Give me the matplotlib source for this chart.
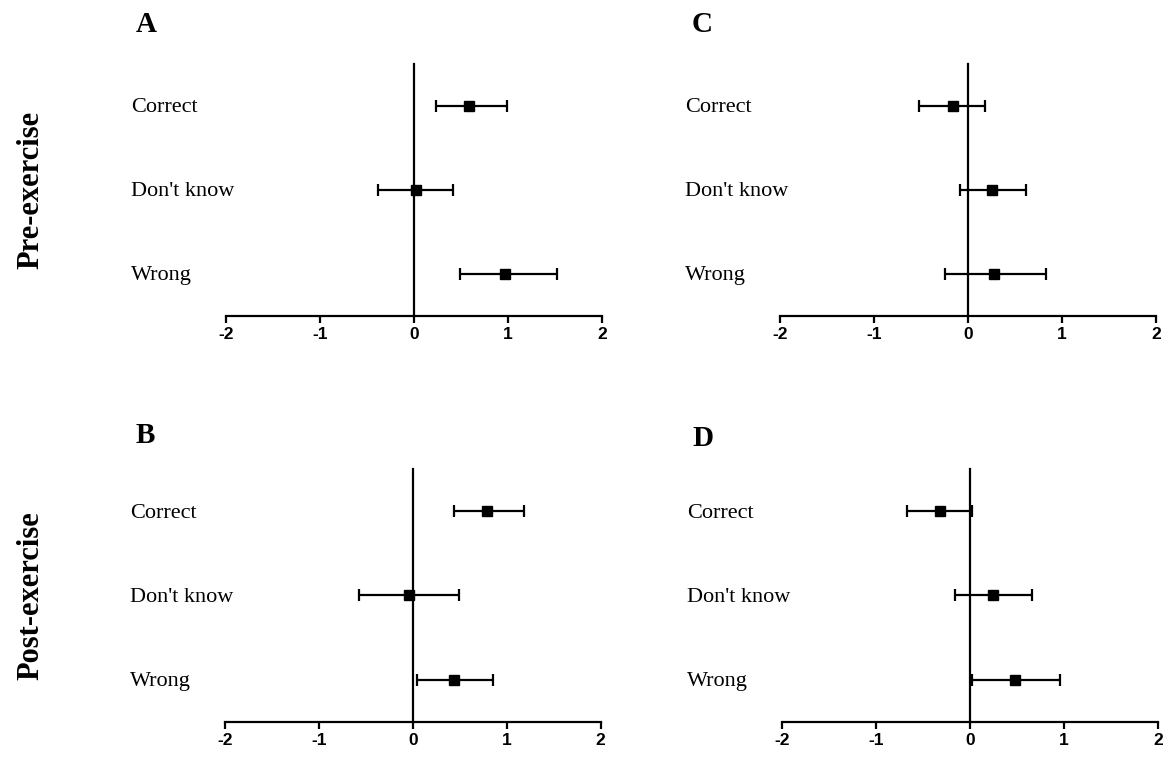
import matplotlib.pyplot as plt
from matplotlib.transforms import blended_transform_factory

categories = ["Correct", "Don't know", "Wrong"]

# mean, lower CI, upper CI for each panel (order: Correct, Don't know, Wrong)
a_mean = [0.59, 0.02, 0.97]
a_low = [0.23, -0.38, 0.49]
a_high = [0.99, 0.42, 1.52]

b_mean = [0.79, -0.04, 0.44]
b_low = [0.44, -0.57, 0.05]
b_high = [1.18, 0.49, 0.86]

c_mean = [-0.16, 0.26, 0.28]
c_low = [-0.52, -0.09, -0.24]
c_high = [0.18, 0.62, 0.83]

d_mean = [-0.32, 0.24, 0.48]
d_low = [-0.67, -0.16, 0.02]
d_high = [0.02, 0.66, 0.96]

xticks = [-2, -1, 0, 1, 2]
row_labels = ["Pre-exercise", "Post-exercise"]

W, H = 1175, 758
fig = plt.figure(figsize=(W / 100, H / 100), dpi=100)

serif = "Liberation Serif"
sans = "Liberation Sans"


def px(x, y):
    return x / W, 1 - y / H


def forest(rect, letter, letter_xy, label_x, mean, low, high):
    ax = fig.add_axes(rect)
    ypos = [3, 2, 1]
    xerr = [[m - l for m, l in zip(mean, low)], [h - m for m, h in zip(mean, high)]]
    ax.errorbar(mean, ypos, xerr=xerr, fmt="s", color="black", ms=7,
                elinewidth=1.6, capsize=4, capthick=1.6, zorder=3)
    ax.set_xlim(-2, 2)
    ax.set_ylim(0.5, 3.5)
    ax.spines["top"].set_visible(False)
    ax.spines["right"].set_visible(False)
    ax.spines["left"].set_position(("data", 0))
    ax.spines["left"].set_linewidth(1.6)
    ax.spines["bottom"].set_linewidth(1.6)
    ax.set_yticks([])
    ax.set_xticks(xticks)
    ax.set_xticklabels([str(t) for t in xticks], fontfamily=sans,
                       fontweight="bold", fontsize=12.5)
    ax.tick_params(axis="x", length=5, width=1.6, pad=3)
    ax.patch.set_visible(False)
    # category labels sit far to the left of the zero line
    tr = blended_transform_factory(fig.transFigure, ax.transData)
    for cat, y in zip(categories, ypos):
        ax.annotate(cat, xy=(label_x / W, y), xycoords=tr, xytext=(0, -4.7),
                    textcoords="offset points", ha="left", va="baseline",
                    fontfamily=serif, fontsize=16)
    lx, ly = px(*letter_xy)
    fig.text(lx, ly, letter, ha="left", va="center", fontfamily=serif,
             fontweight="bold", fontsize=21)
    return ax


forest([226 / W, 1 - 315.7 / H, 376 / W, 251.7 / H], "A", (136, 25), 131,
       a_mean, a_low, a_high)
forest([780 / W, 1 - 315.7 / H, 376 / W, 251.7 / H], "C", (692, 25), 685,
       c_mean, c_low, c_high)
forest([225 / W, 1 - 721.7 / H, 375.5 / W, 252.7 / H], "B", (136, 435), 130,
       b_mean, b_low, b_high)
forest([782 / W, 1 - 721.7 / H, 376 / W, 252.7 / H], "D", (692, 439), 687,
       d_mean, d_low, d_high)

for label, yc in zip(row_labels, [190, 596]):
    x, y = px(31, yc)
    fig.text(x, y, label, rotation=90, ha="center", va="center",
             fontfamily=serif, fontweight="bold", fontsize=22)

fig.savefig("out.png", dpi=100)
